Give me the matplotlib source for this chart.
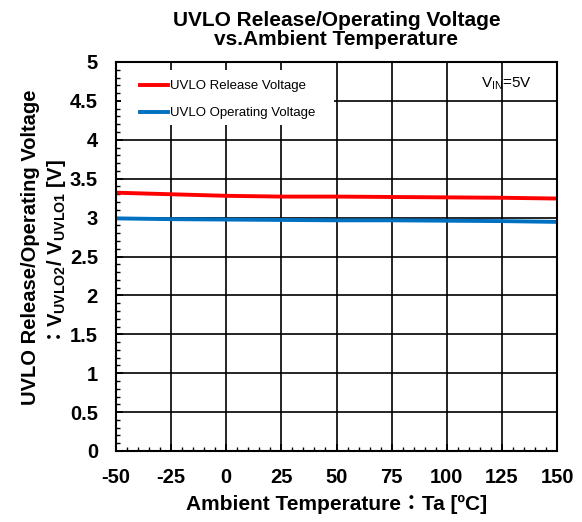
import matplotlib
matplotlib.use("Agg")
import matplotlib.pyplot as plt
from matplotlib.ticker import MultipleLocator
from matplotlib.patches import Rectangle

plt.rcParams['font.family'] = ['Liberation Sans', 'Noto Sans CJK JP', 'DejaVu Sans']
plt.rcParams['mathtext.fontset'] = 'custom'
plt.rcParams['mathtext.rm'] = 'Liberation Sans:bold'
plt.rcParams['mathtext.it'] = 'Liberation Sans:bold'
plt.rcParams['mathtext.bf'] = 'Liberation Sans:bold'
plt.rcParams['mathtext.default'] = 'rm'
plt.rcParams['axes.unicode_minus'] = False

temps = [-50, -25, 0, 25, 50, 75, 100, 125, 150]
release = [3.32, 3.30, 3.28, 3.27, 3.27, 3.265, 3.26, 3.255, 3.245]
operating = [2.99, 2.98, 2.975, 2.97, 2.965, 2.965, 2.96, 2.955, 2.945]
xticks = [-50, -25, 0, 25, 50, 75, 100, 125, 150]
yticks = [0, 0.5, 1, 1.5, 2, 2.5, 3, 3.5, 4, 4.5, 5]

W, H = 582, 522
fig = plt.figure(figsize=(W / 100, H / 100), dpi=100)
ax = fig.add_axes([116 / W, 1 - 451 / H, 441 / W, 389 / H])
ax.set_axisbelow(True)

ax.plot(temps, release, color='#ff0000', lw=2.8, label='UVLO Release Voltage', zorder=3)
ax.plot(temps, operating, color='#0070c0', lw=2.8, label='UVLO Operating Voltage', zorder=3)

ax.set_xlim(-50, 150)
ax.set_ylim(0, 5)
ax.set_xticks(xticks)
ax.set_yticks(yticks)
ax.set_yticklabels([f'{v:g}' for v in yticks])
ax.xaxis.set_minor_locator(MultipleLocator(5))
ax.yaxis.set_minor_locator(MultipleLocator(0.1))
ax.tick_params(which='both', direction='in', top=False, right=False)
ax.tick_params(which='major', length=5, width=1.2, labelsize=14.5)
ax.tick_params(axis='x', which='major', pad=12)
ax.tick_params(axis='y', which='major', pad=13)
ax.tick_params(which='minor', length=3, width=1.0)
for lab in ax.get_xticklabels() + ax.get_yticklabels():
    lab.set_fontweight('bold')
ax.grid(True, which='major', color='black', lw=1.2)
for s in ax.spines.values():
    s.set_linewidth(1.5)
    s.set_zorder(5)

# white background behind legend (covers grid lines)
ax.add_patch(Rectangle((0.012, (451 - 125) / 389), (333 - 120) / 441, (125 - 70) / 389,
                       transform=ax.transAxes, facecolor='white', edgecolor='none', zorder=1))

leg = ax.legend(loc='upper left', bbox_to_anchor=(0.054, 0.954), frameon=False, fontsize=9.5,
                handlelength=2.1, handletextpad=0.15, borderpad=0.0, labelspacing=1.12,
                borderaxespad=0.0)
leg.set_zorder(4)

ax.text(0.943, 0.943, r'$\mathregular{V_{IN}}$=5V', transform=ax.transAxes, ha='right',
        va='center', fontsize=11, math_fontfamily='dejavusans')

ax.set_title('UVLO Release/Operating Voltage\nvs.Ambient Temperature', fontsize=15,
             fontweight='bold', pad=12, linespacing=1.0)
ax.set_xlabel('Ambient Temperature：Ta [ºC]', fontsize=15, fontweight='bold', labelpad=6)

fig.text(31 / W, 1 - 247 / H, 'UVLO Release/Operating Voltage', rotation=90, ha='center',
         va='center', fontsize=14.5, fontweight='bold')
fig.text(56 / W, 1 - 253 / H, r'：$V_{UVLO2}/\ V_{UVLO1}\ [V]$', rotation=90, ha='center',
         va='center', fontsize=14.5, fontweight='bold',
         family=['Noto Sans CJK JP', 'Liberation Sans'])

fig.savefig('out.png', dpi=100)
